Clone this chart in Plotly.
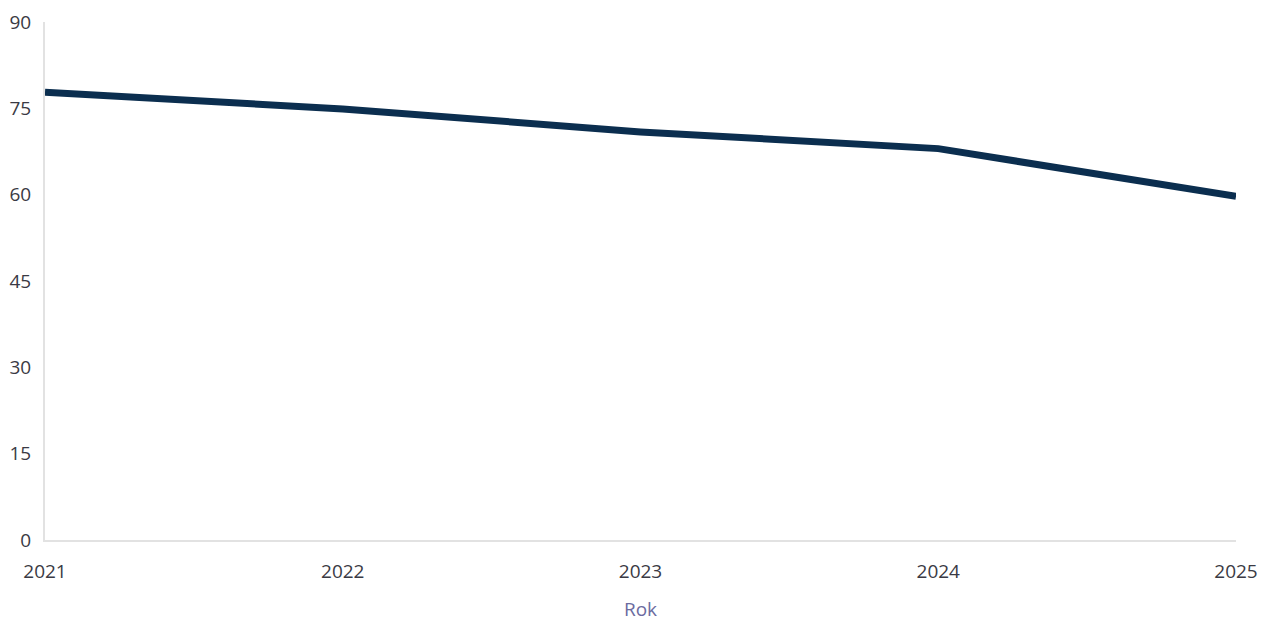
import plotly.graph_objects as go

years = [2021, 2022, 2023, 2024, 2025]
values = [77.8, 74.9, 70.9, 68.0, 59.7]
y_ticks = [0, 15, 30, 45, 60, 75, 90]

fig = go.Figure()
fig.add_trace(go.Scatter(
    x=years, y=values, mode="lines",
    line=dict(color="#0b2e4f", width=7),
    hoverinfo="x+y", showlegend=False,
))

fig.update_layout(
    width=1263, height=622,
    margin=dict(l=45, r=27, t=22, b=82),
    paper_bgcolor="white", plot_bgcolor="white",
    font=dict(family="Open Sans", size=19, color="#3a3a44"),
    xaxis=dict(
        range=[2021, 2025], tickvals=years, ticktext=[str(y) for y in years],
        showgrid=False, zeroline=False, showline=True, linecolor="#e2e2e2", linewidth=2,
        ticks="", ticklabelstandoff=13, automargin=False, ticklabeloverflow="allow",
        title=dict(text="Rok", font=dict(size=19, color="#6b6ba0"), standoff=23),
    ),
    yaxis=dict(
        range=[0, 90], tickvals=y_ticks,
        showgrid=False, zeroline=False, showline=True, linecolor="#e2e2e2", linewidth=2,
        ticks="", ticklabelstandoff=8, automargin=False,
    ),
)

fig.write_html(
    "out.html",
    config={"displayModeBar": False},
    post_script="document.body.style.margin='0';document.body.style.overflow='hidden';",
)
